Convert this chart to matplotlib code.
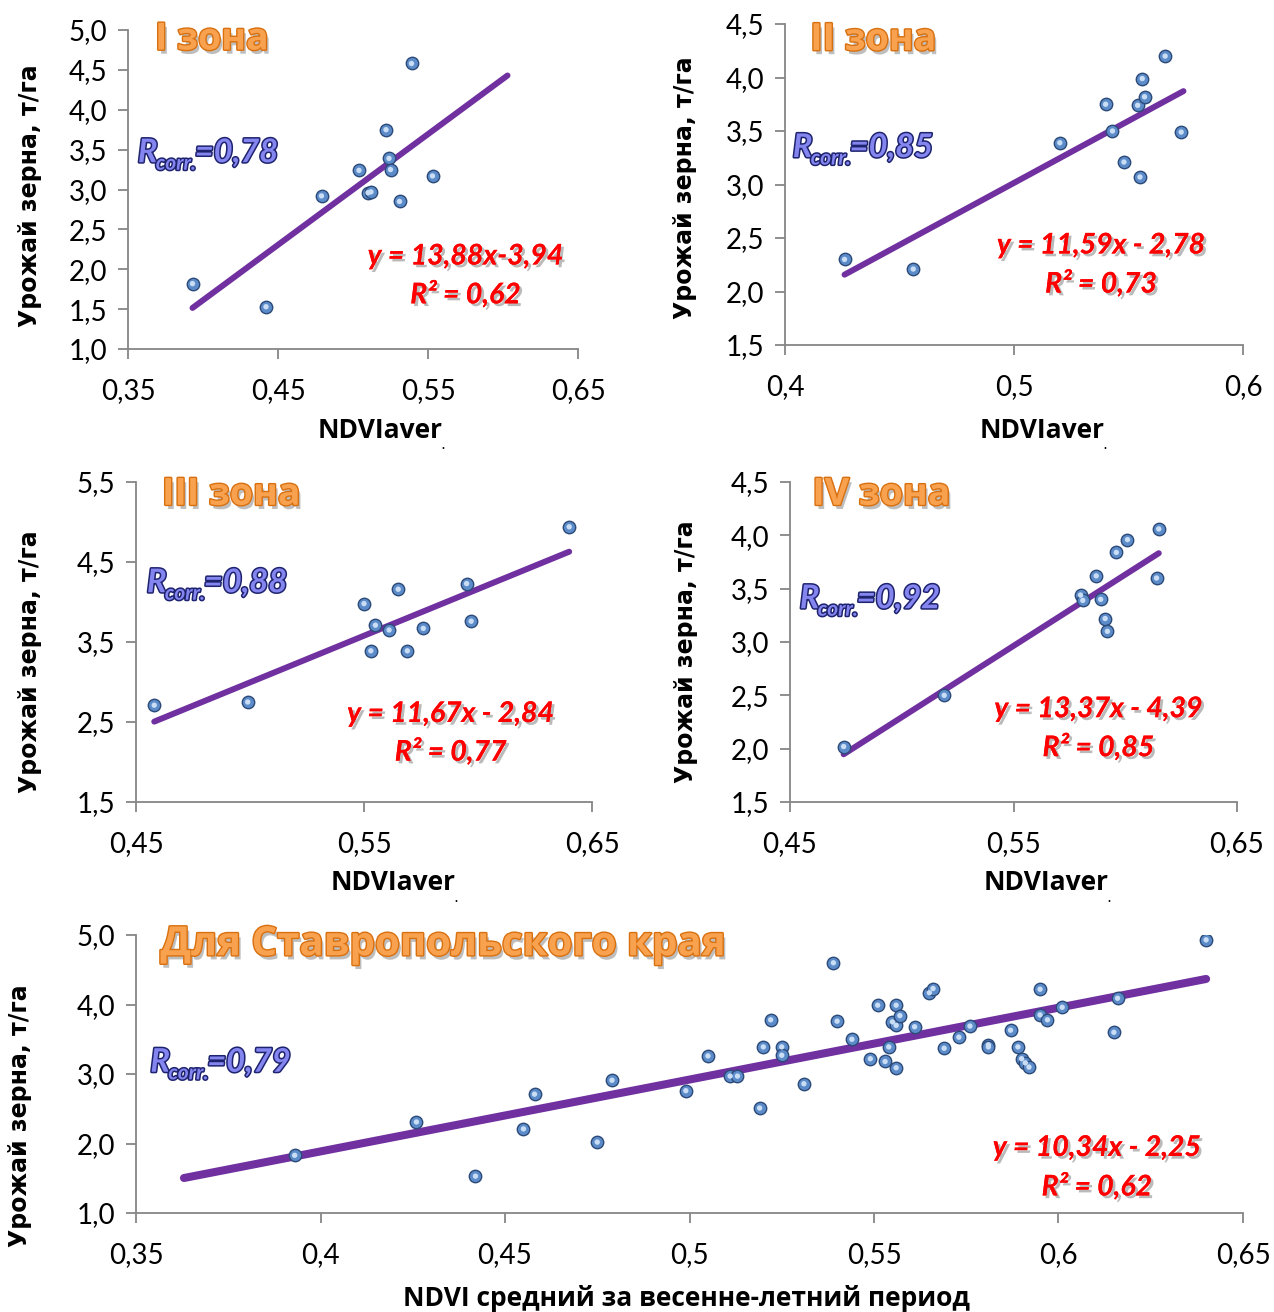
import matplotlib
matplotlib.use("Agg")
import matplotlib.pyplot as plt
import matplotlib.patheffects as pe
from matplotlib.ticker import FuncFormatter

plt.rcParams['font.family'] = ['Lato', 'DejaVu Sans']

# --- данные: зоны Ставропольского края ---
z1_x = [0.393, 0.442, 0.479, 0.504, 0.510, 0.512, 0.522, 0.524, 0.525, 0.531, 0.539, 0.553]
z1_y = [1.82, 1.53, 2.92, 3.24, 2.96, 2.97, 3.75, 3.39, 3.25, 2.85, 4.58, 3.17]

z2_x = [0.426, 0.456, 0.520, 0.540, 0.543, 0.548, 0.554, 0.556, 0.555, 0.557, 0.566, 0.573]
z2_y = [2.30, 2.21, 3.39, 3.75, 3.50, 3.21, 3.74, 3.99, 3.07, 3.82, 4.20, 3.49]

z3_x = [0.458, 0.499, 0.550, 0.553, 0.555, 0.561, 0.565, 0.569, 0.576, 0.595, 0.597, 0.640]
z3_y = [2.71, 2.75, 3.98, 3.39, 3.71, 3.65, 4.16, 3.39, 3.67, 4.23, 3.76, 4.94]

z4_x = [0.474, 0.519, 0.580, 0.581, 0.587, 0.589, 0.591, 0.592, 0.596, 0.601, 0.614, 0.615]
z4_y = [2.02, 2.50, 3.44, 3.39, 3.62, 3.40, 3.22, 3.10, 3.84, 3.96, 3.60, 4.06]

all_x = [0.393, 0.426, 0.442, 0.455, 0.458, 0.475, 0.479, 0.499, 0.505, 0.511, 0.513,
         0.519, 0.520, 0.522, 0.525, 0.525, 0.531, 0.539, 0.540, 0.544, 0.549, 0.551,
         0.553, 0.555, 0.554, 0.556, 0.556, 0.556, 0.557, 0.561, 0.565, 0.566, 0.569,
         0.573, 0.576, 0.581, 0.581, 0.587, 0.589, 0.590, 0.591, 0.592, 0.595, 0.595,
         0.597, 0.601, 0.615, 0.616, 0.640]
all_y = [1.83, 2.31, 1.53, 2.21, 2.71, 2.02, 2.91, 2.76, 3.26, 2.97, 2.97,
         2.51, 3.39, 3.78, 3.39, 3.27, 2.86, 4.60, 3.76, 3.50, 3.22, 3.99,
         3.18, 3.75, 3.39, 3.70, 3.09, 3.99, 3.84, 3.68, 4.17, 4.23, 3.37,
         3.53, 3.69, 3.42, 3.39, 3.63, 3.39, 3.22, 3.16, 3.10, 4.22, 3.85,
         3.78, 3.96, 3.60, 4.09, 4.93]

# тренды: (наклон, свободный член, x начала, x конца)
trends = [(13.88, -3.94, 0.393, 0.603),
          (11.59, -2.78, 0.426, 0.574),
          (11.67, -2.84, 0.458, 0.640),
          (13.37, -4.39, 0.474, 0.615),
          (10.34, -2.25, 0.363, 0.640)]

titles = ["I зона", "II зона", "III зона", "IV зона", "Для Ставропольского края"]
rcorr = ["=0,78", "=0,85", "=0,88", "=0,92", "=0,79"]
eqs = ["y = 13,88x-3,94", "y = 11,59x - 2,78", "y = 11,67x - 2,84",
       "y = 13,37x - 4,39", "y = 10,34x - 2,25"]
r2 = ["R² = 0,62", "R² = 0,73", "R² = 0,77", "R² = 0,85", "R² = 0,62"]

xticks = [[0.35, 0.45, 0.55, 0.65], [0.4, 0.5, 0.6], [0.45, 0.55, 0.65],
          [0.45, 0.55, 0.65], [0.35, 0.4, 0.45, 0.5, 0.55, 0.6, 0.65]]
yticks = [[1.0, 1.5, 2.0, 2.5, 3.0, 3.5, 4.0, 4.5, 5.0],
          [1.5, 2.0, 2.5, 3.0, 3.5, 4.0, 4.5],
          [1.5, 2.5, 3.5, 4.5, 5.5],
          [1.5, 2.0, 2.5, 3.0, 3.5, 4.0, 4.5],
          [1.0, 2.0, 3.0, 4.0, 5.0]]
xlabels = ["NDVIaver", "NDVIaver", "NDVIaver", "NDVIaver",
           "NDVI средний за весенне-летний период"]
ylabel = "Урожай зерна, т/га"

data = [(z1_x, z1_y), (z2_x, z2_y), (z3_x, z3_y), (z4_x, z4_y), (all_x, all_y)]

# позиции осей в пикселях исходной картинки: левый, правый, верх, низ
W, H = 1274, 1312
boxes = [(128, 578, 30, 349), (785, 1243, 24, 345), (136, 592, 482, 802),
         (790, 1237, 482, 802), (136, 1243, 935, 1213)]
# координаты текстов (в долях осей)
title_pos = [(0.06, 0.97), (0.055, 0.95), (0.057, 0.96), (0.05, 0.96), (0.022, 0.965)]
title_size = [27, 27, 27, 27, 29]
rc_pos = [(0.022, 0.57), (0.017, 0.57), (0.024, 0.64), (0.022, 0.59), (0.013, 0.49)]
eq_pos = [(0.75, 0.29, 0.17), (0.69, 0.31, 0.19), (0.69, 0.275, 0.156),
          (0.69, 0.29, 0.17), (0.868, 0.234, 0.094)]
ylab_pos = [(-0.218, 0.48), (-0.218, 0.49), (-0.232, 0.44), (-0.233, 0.47), (-0.105, 0.35)]
xlab_pos = [(0.56, -0.254), (0.561, -0.265), (0.564, -0.253), (0.573, -0.253), (0.497, -0.306)]

fig = plt.figure(figsize=(W / 100, H / 100), dpi=100)

axis_col = '#868686'
title_fx = [pe.withSimplePatchShadow(offset=(2, -3), shadow_rgbFace='#8a8a8a', alpha=0.55),
            pe.withStroke(linewidth=2.0, foreground='#D9700F')]
eq_fx = [pe.withSimplePatchShadow(offset=(2, -2), shadow_rgbFace='#777777', alpha=0.5),
         pe.Normal()]
rc_fx = [pe.withStroke(linewidth=2.2, foreground='#1E236E')]
rc_style = dict(fontweight='bold', fontstyle='italic', color='#8585F0',
                path_effects=rc_fx, zorder=6)

for i, (xs, ys) in enumerate(data):
    l, r, t, b = boxes[i]
    ax = fig.add_axes([l / W, 1 - b / H, (r - l) / W, (b - t) / H])
    ax.set_xlim(xticks[i][0], xticks[i][-1])
    ax.set_ylim(yticks[i][0], yticks[i][-1])
    ax.set_xticks(xticks[i])
    ax.set_yticks(yticks[i])
    dec = 1 if i == 1 else 2
    if i == 4:
        ax.xaxis.set_major_formatter(FuncFormatter(lambda v, p: f"{v:.2f}".rstrip('0').replace('.', ',')))
    else:
        ax.xaxis.set_major_formatter(FuncFormatter(lambda v, p, d=dec: f"{v:.{d}f}".replace('.', ',')))
    ax.yaxis.set_major_formatter(FuncFormatter(lambda v, p: f"{v:.1f}".replace('.', ',')))
    for s in ['top', 'right']:
        ax.spines[s].set_visible(False)
    for s in ['left', 'bottom']:
        ax.spines[s].set_color(axis_col)
        ax.spines[s].set_linewidth(1.3)
    ax.tick_params(axis='both', direction='out', length=7, width=1.3, color=axis_col,
                   labelsize=20, labelcolor='black')
    ax.tick_params(axis='x', pad=14)
    ax.tick_params(axis='y', pad=8)
    ax.set_facecolor('none')

    # линия тренда
    k, c, x0, x1 = trends[i]
    lw = 5.8 if i == 4 else 4.3
    ax.plot([x0, x1], [k * x0 + c, k * x1 + c], color='#7030A0', lw=lw,
            solid_capstyle='round', zorder=3)
    # точки
    ax.scatter(xs, ys, s=80, facecolor='#5B8BC9', edgecolor='#2C4A78', linewidth=1.0, zorder=4)
    ax.scatter(xs, ys, s=15, facecolor='#C9DDF4', edgecolor='none', zorder=5)

    # подписи
    ax.text(title_pos[i][0], title_pos[i][1], titles[i], transform=ax.transAxes,
            ha='left', va='center', fontsize=title_size[i], fontweight='bold',
            family=['Open Sans', 'DejaVu Sans'], color='#F8A14E', path_effects=title_fx, zorder=6)

    # R_corr: буква, подстрочный индекс, значение
    t1 = ax.text(rc_pos[i][0], rc_pos[i][1], "R", transform=ax.transAxes,
                 ha='left', va='bottom', fontsize=23.5, **rc_style)
    t2 = ax.annotate("corr.", xy=(0.92, 0.12), xycoords=t1, ha='left', va='center',
                     fontsize=15, **rc_style)
    ax.annotate(rcorr[i], xy=(0.97, 0.0), xycoords=(t2, t1), ha='left', va='bottom',
                fontsize=23.5, **rc_style)

    ex, ey, ry = eq_pos[i]
    ax.text(ex, ey, eqs[i], transform=ax.transAxes, ha='center', va='center',
            fontsize=20.5, fontweight='bold', fontstyle='italic', color='#FF0000',
            path_effects=eq_fx, zorder=6)
    ax.text(ex, ry, r2[i], transform=ax.transAxes, ha='center', va='center',
            fontsize=20.5, fontweight='bold', fontstyle='italic', color='#FF0000',
            path_effects=eq_fx, zorder=6)
    ax.text(ylab_pos[i][0], ylab_pos[i][1], ylabel, transform=ax.transAxes, rotation=90,
            ha='center', va='center', fontsize=17, fontweight='bold', family='DejaVu Sans')
    xl = ax.text(xlab_pos[i][0], xlab_pos[i][1], xlabels[i], transform=ax.transAxes,
                 ha='center', va='center', fontsize=19, fontweight='bold',
                 family=['Open Sans', 'DejaVu Sans'])
    if i < 4:
        ax.annotate(".", xy=(0.99, 0.16), xycoords=xl, ha='left', va='top',
                    fontsize=9, fontweight='bold')

fig.savefig("out.png", dpi=100)
